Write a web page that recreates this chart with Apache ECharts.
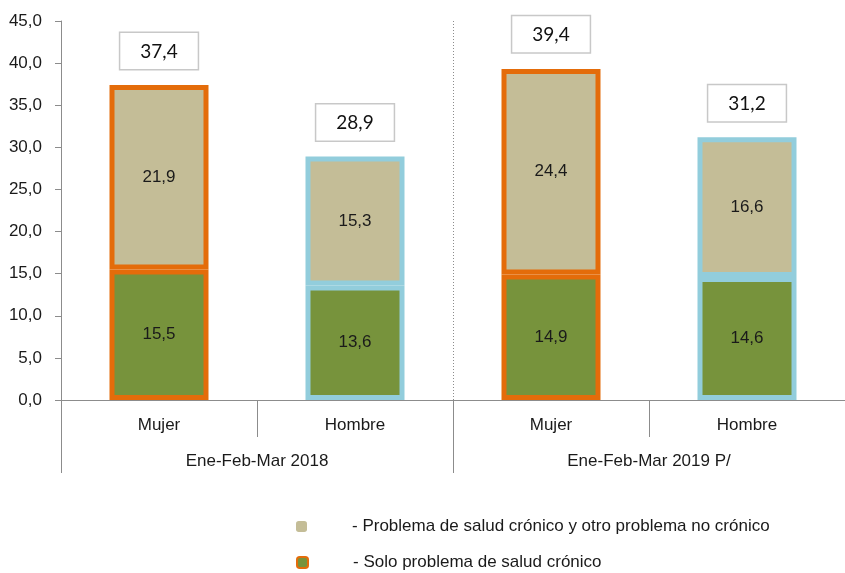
<!DOCTYPE html>
<html><head><meta charset="utf-8">
<script src="https://cdn.jsdelivr.net/npm/echarts@6/dist/echarts.min.js"></script>
<style>html,body{margin:0;padding:0;background:#fff}#c{width:845px;height:573px}</style>
</head><body><div id="c"></div>
<script>
var categories = ['Mujer', 'Hombre', 'Mujer', 'Hombre'];
var groups = ['Ene-Feb-Mar 2018', 'Ene-Feb-Mar 2019 P/'];
var soloCronico = [15.5, 13.6, 14.9, 14.6];
var cronicoYOtro = [21.9, 15.3, 24.4, 16.6];
var totals = [37.4, 28.9, 39.4, 31.2];
var seriesNames = ['- Problema de salud crónico y otro problema no crónico', '- Solo problema de salud crónico'];
var yTicks = [0, 5, 10, 15, 20, 25, 30, 35, 40, 45];

var borderColors = ['#E46C0A', '#92CDDC', '#E46C0A', '#92CDDC'];
var fmt = function (v) { return Number(v).toFixed(1).replace('.', ','); };
var font = '"Liberation Sans", Arial, sans-serif';
var fs = 17;
var txt = '#1a1a1a';

function seg(values, fill) {
  return values.map(function (v, i) {
    return { value: v, itemStyle: { color: fill, borderColor: borderColors[i], borderWidth: 5 } };
  });
}

var legendText = { fontFamily: font, fontSize: fs, color: txt, padding: [0, 0, 0, 40] };

var chart = echarts.init(document.getElementById('c'));
chart.setOption({
  animation: false,
  grid: { left: 61, top: 21, width: 795, height: 379 },
  legend: [
    {
      orient: 'vertical', left: 296, top: 518, padding: 0, itemWidth: 11, itemHeight: 11,
      selectedMode: false, textStyle: legendText,
      data: [{ name: seriesNames[0], itemStyle: { color: '#C4BD97', borderWidth: 0 } }]
    },
    {
      orient: 'vertical', left: 296, top: 554, padding: 0, itemWidth: 11, itemHeight: 11,
      selectedMode: false, textStyle: legendText,
      data: [{ name: seriesNames[1], itemStyle: { color: '#77933C', borderColor: '#E46C0A', borderWidth: 2 } }]
    }
  ],
  xAxis: [
    {
      type: 'category', data: categories, position: 'bottom',
      axisLine: { show: true, lineStyle: { color: '#8C8C8C', width: 1 } },
      axisTick: { show: true, length: 37, lineStyle: { color: '#8C8C8C' } },
      axisLabel: { margin: 17, fontFamily: font, fontSize: fs, color: txt }
    },
    {
      type: 'category', data: groups, position: 'bottom',
      axisLine: { show: false },
      axisTick: { show: true, length: 73, lineStyle: { color: '#8C8C8C' } },
      axisLabel: { margin: 53, fontFamily: font, fontSize: fs, color: txt },
      splitLine: { show: true, lineStyle: { color: '#8C8C8C', type: [1, 2], width: 1 } }
    }
  ],
  yAxis: {
    type: 'value', min: yTicks[0], max: yTicks[yTicks.length - 1], interval: 5,
    axisLine: { show: true, lineStyle: { color: '#8C8C8C' } },
    axisTick: { show: true, length: 6, lineStyle: { color: '#8C8C8C' } },
    splitLine: { show: false },
    axisLabel: { formatter: fmt, fontFamily: font, fontSize: fs, color: txt, margin: 19 }
  },
  series: [
    {
      name: seriesNames[1], type: 'bar', stack: 's', barWidth: 99, xAxisIndex: 0,
      itemStyle: { color: '#77933C', borderColor: '#E46C0A', borderWidth: 5 },
      data: seg(soloCronico, '#77933C'),
      label: { show: true, position: 'inside', formatter: function (p) { return fmt(p.value); }, fontFamily: font, fontSize: fs, color: txt }
    },
    {
      name: seriesNames[0], type: 'bar', stack: 's', barWidth: 99, xAxisIndex: 0,
      itemStyle: { color: '#C4BD97' },
      data: seg(cronicoYOtro, '#C4BD97'),
      label: { show: true, position: 'inside', formatter: function (p) { return fmt(p.value); }, fontFamily: font, fontSize: fs, color: txt }
    },
    {
      name: 'total', type: 'line', xAxisIndex: 0, data: totals, z: 10,
      symbol: 'circle', symbolSize: 2, showSymbol: true, itemStyle: { color: 'rgba(0,0,0,0)' },
      lineStyle: { width: 0, color: 'rgba(0,0,0,0)' }, silent: true,
      label: {
        show: true, position: 'top', distance: 15, formatter: function (p) { return fmt(p.value); },
        fontFamily: 'Lato, "Open Sans", sans-serif', fontSize: 19, color: '#111', lineHeight: 21,
        backgroundColor: '#fff', borderColor: '#C8C8C8', borderWidth: 1.5, padding: [8, 20, 7, 20]
      }
    }
  ]
});
</script></body></html>
